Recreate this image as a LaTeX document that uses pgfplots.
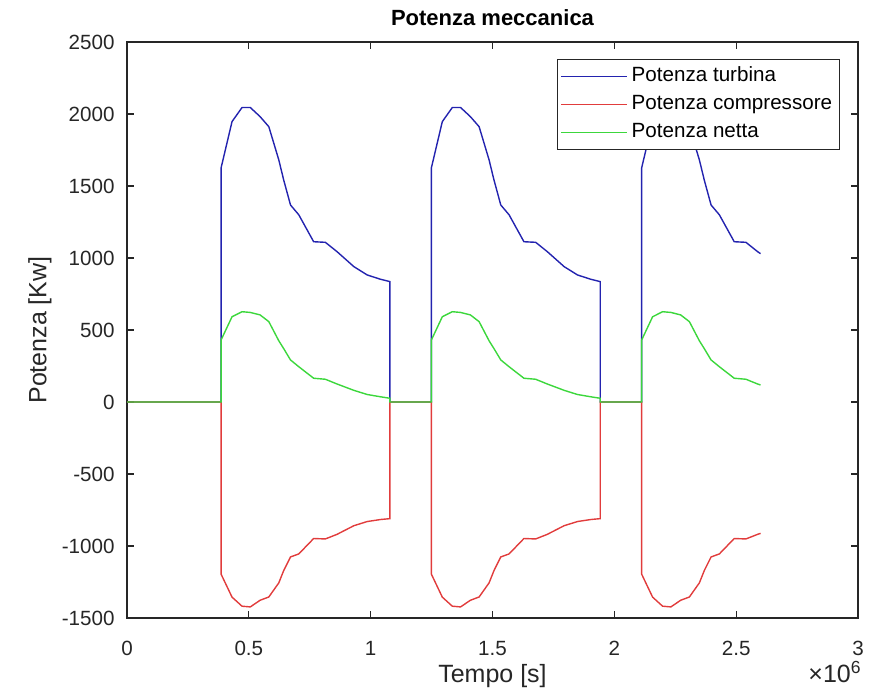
\documentclass[border=0pt]{standalone}
\usepackage{pgfplots}
\pgfplotsset{compat=1.18}
\usepackage{fontspec}
\setmainfont{Liberation Sans}
\definecolor{mblue}{RGB}{35,35,175}
\definecolor{mred}{RGB}{225,60,60}
\definecolor{mgreen}{RGB}{60,215,60}
\definecolor{axgray}{RGB}{38,38,38}
\begin{document}
\begin{tikzpicture}
\begin{axis}[
    name=ax,
    scale only axis,
    width=365.5pt, height=288pt,
    xmin=0, xmax=3, ymin=-1500, ymax=2500,
    xtick={0,0.5,1,1.5,2,2.5,3},
    ytick={-1500,-1000,-500,0,500,1000,1500,2000,2500},
    tick align=inside,
    major tick length=3.5pt,
    axis line style={axgray, line width=0.6pt},
    every tick/.style={axgray, line width=0.6pt},
    tick label style={font=\fontsize{10.3}{12}\selectfont, text=axgray},
    /pgf/number format/assume math mode=true,
    /pgf/number format/1000 sep={},
    xticklabel style={yshift=-8pt, /pgf/number format/fixed},
    yticklabel style={xshift=-2.7pt},
    xlabel={Tempo [s]},
    xlabel style={at={(axis description cs:0.5,-0.1)}, anchor=center, font=\fontsize{12.5}{14}\selectfont, text=axgray},
    ylabel={Potenza [Kw]},
    ylabel style={at={(axis description cs:-0.119,0.5)}, anchor=center, font=\fontsize{12.5}{14}\selectfont, text=axgray},
    legend style={at={(axis description cs:0.588,0.9705)}, anchor=north west, draw=axgray, line width=0.5pt,
        inner sep=1.5pt, row sep=0pt, font=\fontsize{10.3}{12}\selectfont,
        nodes={inner sep=2pt, text height=7.5pt, text depth=2.5pt}},
    legend cell align=left,
    legend image code/.code={\draw[#1] (0pt,0pt) -- (33pt,0pt);},
]
% turbina
\addplot[mblue, line width=0.7pt] coordinates {
    (0,0) (0.386,0)
    (0.386,1625) (0.431,1947) (0.472,2045) (0.506,2045) (0.546,1982) (0.582,1912)
    (0.623,1681) (0.643,1542) (0.671,1368) (0.705,1300) (0.766,1113) (0.814,1109)
    (0.862,1044) (0.931,940) (0.986,882) (1.041,852) (1.079,836)
    (1.079,0) (1.249,0)
    (1.249,1625) (1.294,1947) (1.335,2045) (1.369,2045) (1.409,1982) (1.445,1912)
    (1.486,1681) (1.506,1542) (1.534,1368) (1.568,1300) (1.629,1113) (1.677,1109)
    (1.725,1044) (1.794,940) (1.849,882) (1.904,852) (1.942,836)
    (1.942,0) (2.112,0)
    (2.112,1625) (2.157,1947) (2.198,2045) (2.232,2045) (2.272,1982) (2.308,1912)
    (2.349,1681) (2.369,1542) (2.397,1368) (2.431,1300) (2.492,1113) (2.540,1109)
    (2.588,1044) (2.600,1030)
};
\addlegendentry{Potenza turbina}
% compressore
\addplot[mred, line width=0.7pt] coordinates {
    (0,0) (0.386,0)
    (0.386,-1195) (0.431,-1355) (0.472,-1418) (0.506,-1423) (0.546,-1377) (0.582,-1354)
    (0.623,-1256) (0.643,-1171) (0.671,-1076) (0.705,-1055) (0.766,-948) (0.814,-951)
    (0.862,-919) (0.931,-859) (0.986,-830) (1.041,-816) (1.079,-810)
    (1.079,0) (1.249,0)
    (1.249,-1195) (1.294,-1355) (1.335,-1418) (1.369,-1423) (1.409,-1377) (1.445,-1354)
    (1.486,-1256) (1.506,-1171) (1.534,-1076) (1.568,-1055) (1.629,-948) (1.677,-951)
    (1.725,-919) (1.794,-859) (1.849,-830) (1.904,-816) (1.942,-810)
    (1.942,0) (2.112,0)
    (2.112,-1195) (2.157,-1355) (2.198,-1418) (2.232,-1423) (2.272,-1377) (2.308,-1354)
    (2.349,-1256) (2.369,-1171) (2.397,-1076) (2.431,-1055) (2.492,-948) (2.540,-951)
    (2.588,-919) (2.600,-912)
};
\addlegendentry{Potenza compressore}
% netta
\addplot[mgreen, line width=0.7pt] coordinates {
    (0,0) (0.386,0)
    (0.386,430) (0.431,592) (0.472,627) (0.506,622) (0.546,605) (0.582,558)
    (0.623,425) (0.643,371) (0.671,292) (0.705,245) (0.766,165) (0.814,158)
    (0.862,125) (0.931,81) (0.986,52) (1.041,36) (1.079,26)
    (1.079,0) (1.249,0)
    (1.249,430) (1.294,592) (1.335,627) (1.369,622) (1.409,605) (1.445,558)
    (1.486,425) (1.506,371) (1.534,292) (1.568,245) (1.629,165) (1.677,158)
    (1.725,125) (1.794,81) (1.849,52) (1.904,36) (1.942,26)
    (1.942,0) (2.112,0)
    (2.112,430) (2.157,592) (2.198,627) (2.232,622) (2.272,605) (2.308,558)
    (2.349,425) (2.369,371) (2.397,292) (2.431,245) (2.492,165) (2.540,158)
    (2.588,125) (2.600,118)
};
\addlegendentry{Potenza netta}
\end{axis}
\node[anchor=center, font=\fontsize{11}{13}\selectfont\bfseries] at ([yshift=12pt]ax.north) {Potenza meccanica};
\node[anchor=center, text=axgray, font=\fontsize{12.5}{14}\selectfont] at ([xshift=-11.5pt,yshift=-27pt]ax.south east) {×10\textsuperscript{6}};
\pgfresetboundingbox
\path[use as bounding box] ([xshift=-63.5pt,yshift=-38pt]ax.south west) rectangle ([xshift=5.5pt,yshift=21pt]ax.north east);
\end{tikzpicture}
\end{document}
